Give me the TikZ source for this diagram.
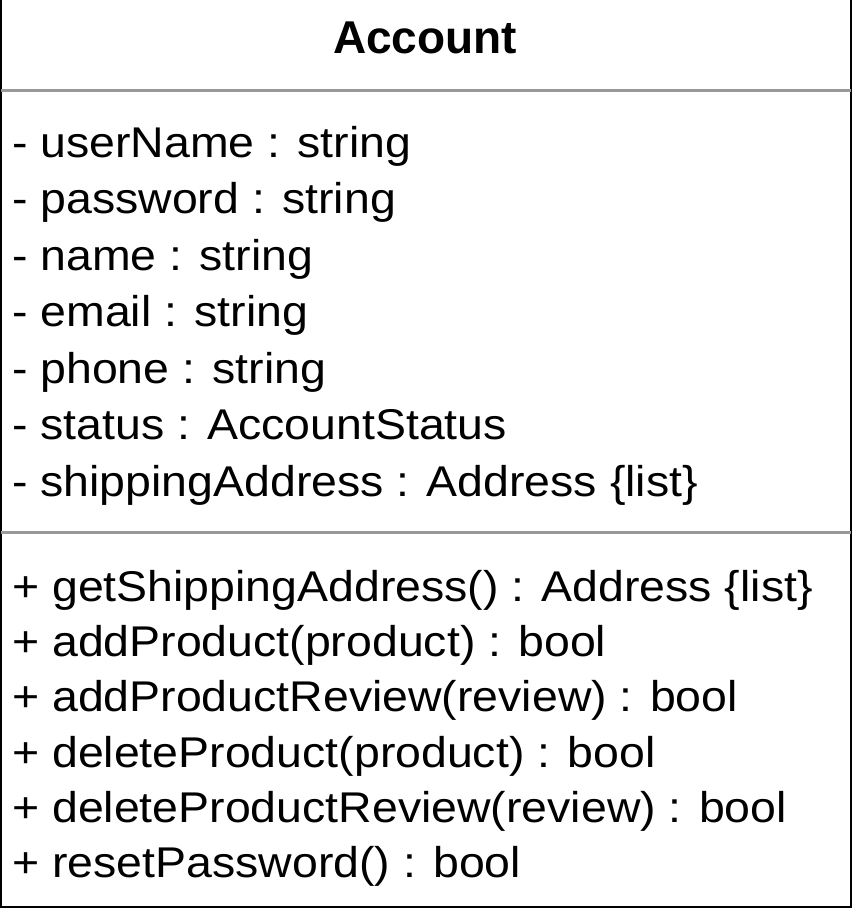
\documentclass[tikz,border=0pt]{standalone}
\usepackage{fontspec}
\setmainfont{Liberation Sans}
\newfontfamily\rowfont[FakeStretch=1.08]{Liberation Sans}
\begin{document}
\begin{tikzpicture}[x=1pt,y=-1pt,
  row/.style={anchor=base west,inner sep=0pt,font=\rowfont\fontsize{43}{48}\selectfont},
  sep/.style={draw=black!40,line width=3pt}]
\useasboundingbox (0,0) rectangle (852,908);
\coordinate (tl) at (1,-2);
\coordinate (bl) at (1,906.5);
\coordinate (br) at (851,906.5);
\coordinate (tr) at (851,-2);
\draw[line width=2pt] (tl) -- (bl) -- (br) -- (tr);
\coordinate (s1l) at (1,90.5); \coordinate (s1r) at (851,90.5);
\coordinate (s2l) at (1,532); \coordinate (s2r) at (851,532);
\draw[sep] (s1l) -- (s1r);
\draw[sep] (s2l) -- (s2r);
\node[anchor=base,inner sep=0pt,font=\fontsize{46}{50}\selectfont\bfseries] (title) at (425,53) {Account};
\node[row] (a1) at (12,157) {- userName : string};
\node[row] (a2) at (12,213.5) {- password : string};
\node[row] (a3) at (12,270) {- name : string};
\node[row] (a4) at (12,326.5) {- email : string};
\node[row] (a5) at (12,383) {- phone : string};
\node[row] (a6) at (12,439.5) {- status : AccountStatus};
\node[row] (a7) at (12,496) {- shippingAddress : Address \{list\}};
\node[row] (m1) at (12,601) {+ getShippingAddress() : Address \{list\}};
\node[row] (m2) at (12,656) {+ addProduct(product) : bool};
\node[row] (m3) at (12,711.5) {+ addProductReview(review) : bool};
\node[row] (m4) at (12,767) {+ deleteProduct(product) : bool};
\node[row] (m5) at (12,822) {+ deleteProductReview(review) : bool};
\node[row] (m6) at (12,877) {+ resetPassword() : bool};
\end{tikzpicture}
\end{document}
